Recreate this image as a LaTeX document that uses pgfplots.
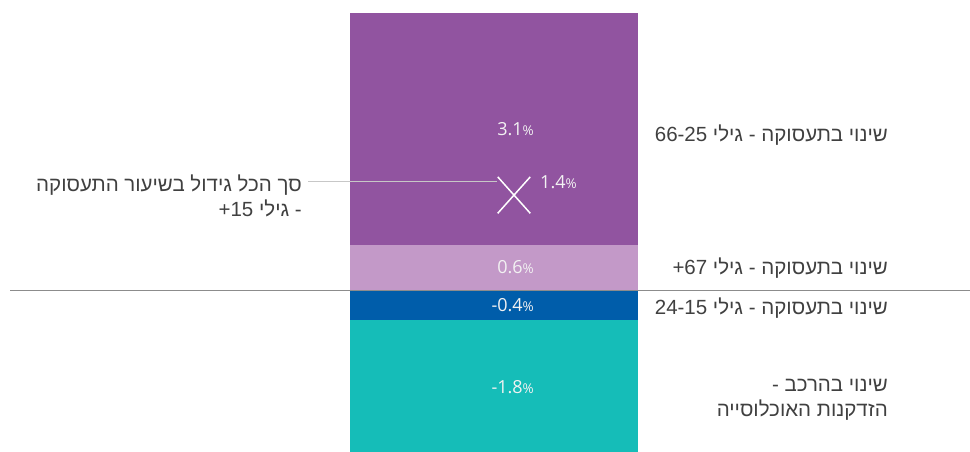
\documentclass[border=0pt]{standalone}
\usepackage{pgfplots}
\pgfplotsset{compat=1.18}
\usepackage{fontspec}
\setmainfont{Liberation Sans}
\newfontfamily\hebfont[Script=Hebrew]{Liberation Sans}
\newfontfamily\latfont{Liberation Sans}
\newfontfamily\numfont{Open Sans}
\TeXXeTstate=1

\definecolor{cpurple}{HTML}{9154A0}
\definecolor{clpurple}{HTML}{C399C8}
\definecolor{cblue}{HTML}{005DAA}
\definecolor{cteal}{HTML}{15BDB8}
\definecolor{ctext}{HTML}{404040}
\definecolor{cval}{HTML}{F2F2F2}

\pgfplotsset{
  base/.style={
    width=970pt, height=451pt, scale only axis,
    xmin=0, xmax=970, ymin=-2.147, ymax=3.867,
    axis lines=none, ticks=none,
  },
  bars/.style={base, ybar stacked, bar width=288, bar shift=0},
}
\tikzset{
  lab/.style={font=\hebfont\fontsize{20.5}{25}\selectfont, text=ctext, inner sep=0pt},
  val/.style={font=\numfont\fontsize{18}{20}\selectfont, text=cval, inner sep=0pt},
}
\newcommand{\pct}{{\fontsize{13.5}{14}\selectfont\%}}
\newcommand{\ltr}[1]{\beginL{\latfont #1}\endL}

\begin{document}
\begin{tikzpicture}
% positive part of the bar
\begin{axis}[bars]
  \addplot[fill=clpurple, draw=none] coordinates {(494,0.6)};
  \addplot[fill=cpurple, draw=none] coordinates {(494,3.1)};
\end{axis}
% negative part
\begin{axis}[bars]
  \addplot[fill=cblue, draw=none] coordinates {(494,-0.4)};
  \addplot[fill=cteal, draw=none] coordinates {(494,-1.8)};
\end{axis}
% lines, marker and labels
\begin{axis}[base]
  % zero line and pointer line
  \addplot[sharp plot, draw=black!45, line width=0.8pt] coordinates {(10,0) (970,0)};
  \addplot[sharp plot, draw=black!22, line width=0.8pt] coordinates {(308,1.453) (497,1.453)};
  % total marker
  \addplot[only marks, mark=x, mark size=23pt,
           mark options={white, line width=1.5pt, yscale=1.12, yshift=-9pt}]
    coordinates {(514,1.4)};

  % values in the bar
  \node[val, anchor=east] at (axis cs:534,2.15) {3.1\pct};
  \node[val, anchor=east] at (axis cs:534,0.3) {0.6\pct};
  \node[val, anchor=east] at (axis cs:534,-0.2) {-0.4\pct};
  \node[val, anchor=east] at (axis cs:534,-1.3) {-1.8\pct};
  \node[val, anchor=west] at (axis cs:540,1.44) {1.4\pct};

  % series names
  \node[lab, anchor=east] at (axis cs:888,2.07)
    {\beginR שינוי בתעסוקה - גילי \ltr{66-25}\endR};
  \node[lab, anchor=east] at (axis cs:888,0.293)
    {\beginR שינוי בתעסוקה - גילי \ltr{+67}\endR};
  \node[lab, anchor=east] at (axis cs:888,-0.24)
    {\beginR שינוי בתעסוקה - גילי \ltr{24-15}\endR};
  \node[lab, anchor=east, align=right] at (axis cs:888,-1.47)
    {\beginR שינוי בהרכב -\endR\\ \beginR הזדקנות האוכלוסייה\endR};
  \node[lab, anchor=east, align=right] at (axis cs:302,1.26)
    {\beginR סך הכל גידול בשיעור התעסוקה\endR\\ \beginR - גילי \ltr{+15}\endR};
\end{axis}
\useasboundingbox (current axis.south west) rectangle (current axis.north east);
\end{tikzpicture}
\end{document}
